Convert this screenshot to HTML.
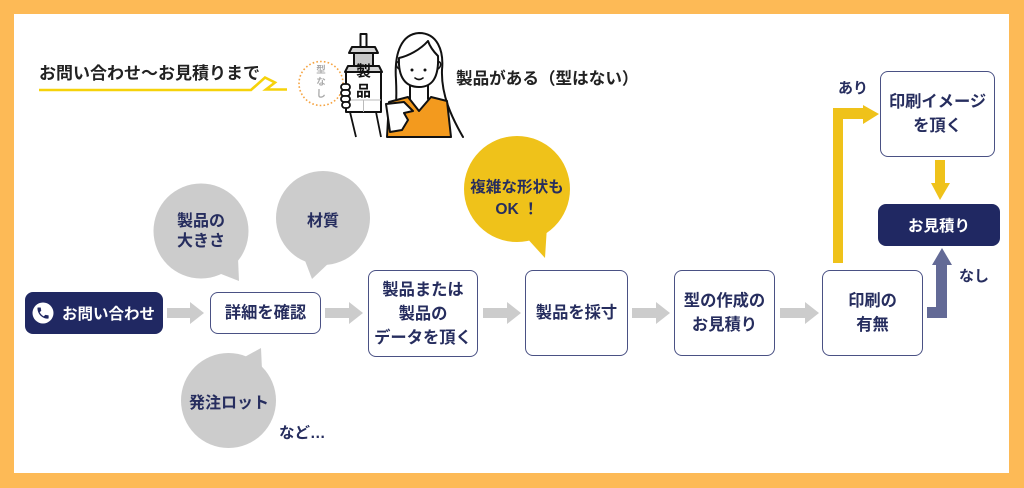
<!DOCTYPE html>
<html><head><meta charset="utf-8">
<style>
*{margin:0;padding:0;box-sizing:border-box}
html,body{width:1024px;height:488px;overflow:hidden;background:#FDBA56}
body{position:relative;font-family:"Liberation Sans","Noto Sans CJK JP",sans-serif;font-weight:bold}
#panel{position:absolute;left:14px;top:14px;width:995px;height:459px;background:#fff}
svg{position:absolute;left:0;top:0}
.t{position:absolute;display:flex;align-items:center;justify-content:center;text-align:center;white-space:nowrap;color:#262D5E}
.box{position:absolute;border:1.6px solid #4A5184;border-radius:8px;background:#fff;display:flex;align-items:center;justify-content:center;text-align:center;color:#262D5E;font-size:16.3px;line-height:24px;white-space:nowrap}
.dark{position:absolute;background:#202862;border-radius:8px;color:#fff;display:flex;align-items:center;justify-content:center;font-size:15.5px;white-space:nowrap}
</style></head><body>
<div id="panel"></div>
<svg width="1024" height="488" viewBox="0 0 1024 488">
  <!-- title underline -->
  <path d="M39 90 H251 L265 77.5 L275 82.5 L266 89.5 H287" fill="none" stroke="#F6D20A" stroke-width="2.6" stroke-linejoin="miter"/>
  <!-- dashed circle -->
  <circle cx="321" cy="83.5" r="22" fill="none" stroke="#F5A443" stroke-width="1.6" stroke-dasharray="1.6 2.2"/>
  <!-- illustration: tower -->
  <g stroke="#111" stroke-width="2" stroke-linejoin="round">
    <rect x="360.5" y="34" width="6" height="13" fill="#fff"/>
    <path d="M352 47 H375 L378 53 H349 Z" fill="#d4d4d4"/>
    <rect x="354" y="53" width="19" height="13" fill="#c8c8c8"/>
    <path d="M348 66 H379 L382 72 H345 Z" fill="#d4d4d4"/>
    <rect x="346" y="72" width="35" height="40" fill="#fff"/>
  </g>
  <g stroke="#bbb" stroke-width="1">
    <line x1="346" y1="100" x2="381" y2="100"/><line x1="363.5" y1="100" x2="363.5" y2="112"/>
  </g>
  <!-- hand on tower -->
  <g stroke="#111" stroke-width="1.8" fill="#fff">
    <rect x="341" y="84" width="9" height="6" rx="3"/>
    <rect x="341" y="90" width="9" height="6" rx="3"/>
    <rect x="341" y="96" width="9" height="6" rx="3"/>
    <rect x="342" y="102" width="8" height="6" rx="3"/>
    <path d="M350 112 L356 137 M376 112 L381 137" fill="none"/>
  </g>
  <!-- woman -->
  <g stroke="#111" stroke-width="2" stroke-linejoin="round" stroke-linecap="round">
    <path d="M392 137 C396 118 397 100 396 80 C394 52 402 34 419 33 C437 33 444 50 442 70 C441 95 452 118 463 137" fill="#fff"/>
    <path d="M410 84 V99 M428 84 V99" fill="none"/>
    <path d="M399 58 C398 78 406 87 419 87 C432 87 439 78 438 56 C434 52 430 47 428 41 C420 50 408 56 399 58 Z" fill="#fff"/>
    <path d="M399 62 C396 61 395 66 399 69 M438 62 C441 61 442 66 438 69" fill="none" stroke-width="1.6"/>
    <path d="M387 137 L389 102 L408 97 L419 111 L431 97 L447 101 L451 137 Z" fill="#F39A1E"/>
    <path d="M386 104 L404 102 L413 111 L404 113 L408 120 L402 130 L390 132 Z" fill="#fff"/>
    <path d="M415 78 Q419 81 423 78" fill="none" stroke-width="1.6"/>
  </g>
  <circle cx="412" cy="70" r="1.5" fill="#111"/><circle cx="425" cy="70" r="1.5" fill="#111"/>

  <!-- gray bubbles -->
  <g fill="#CCCCCC">
    <circle cx="201" cy="231" r="47.5"/>
    <polygon points="216,272 238,258 239,281"/>
    <circle cx="323" cy="218" r="47"/>
    <polygon points="304,258 331,261 312,279"/>
    <circle cx="228.5" cy="400.5" r="47.5"/>
    <polygon points="241,359 262,370 261,348"/>
  </g>
  <!-- yellow bubble -->
  <g fill="#EFC21A">
    <circle cx="517" cy="189" r="53"/>
    <polygon points="525,236 547,226 545,258"/>
  </g>

  <!-- gray arrows -->
  <g fill="#CCCCCC">
    <path d="M167 308 H190 V302 L204 313 L190 324 V318 H167 Z"/>
    <path d="M325 308 H349 V302 L363 313 L349 324 V318 H325 Z"/>
    <path d="M483 308 H507 V302 L521 313 L507 324 V318 H483 Z"/>
    <path d="M632 308 H656 V302 L670 313 L656 324 V318 H632 Z"/>
    <path d="M780 308 H805 V302 L819 313 L805 324 V318 H780 Z"/>
  </g>
  <!-- yellow path arrow -->
  <path d="M833 263 V108 H863 V105 L879 114 L863 124 V119 H843 V263 Z" fill="#EFC21A"/>
  <path d="M935 160 H945 V183 H950 L940 200 L931 183 H935 Z" fill="#EFC21A"/>
  <!-- slate arrow -->
  <path d="M927 307 H936 V265 H932 L942 248 L952 265 H947 V318 H927 Z" fill="#636A96"/>
</svg>

<div class="t" style="left:39px;top:60px;height:22px;font-size:17px;color:#222">お問い合わせ〜お見積りまで</div>
<div class="t" style="left:312px;top:65px;width:18px;height:36px;font-size:9.5px;line-height:12px;color:#aaa;white-space:normal;flex-direction:column">型<br>な<br>し</div>
<div class="t" style="left:355px;top:60px;width:17px;height:20px;font-size:15px;color:#111">製</div>
<div class="t" style="left:355px;top:80px;width:17px;height:20px;font-size:15px;color:#111">品</div>
<div class="t" style="left:456px;top:66px;height:22px;font-size:16.6px;color:#222">製品がある（型はない）</div>

<div class="t" style="left:153px;top:211px;width:96px;height:42px;font-size:16px;line-height:20px;white-space:normal">製品の<br>大きさ</div>
<div class="t" style="left:276px;top:208px;width:94px;height:22px;font-size:16px">材質</div>
<div class="t" style="left:180px;top:390px;width:98px;height:22px;font-size:16px">発注ロット</div>
<div class="t" style="left:279px;top:421px;height:22px;font-size:15.5px">など…</div>
<div class="t" style="left:462px;top:176px;width:110px;height:46px;font-size:15.6px;line-height:22px;white-space:normal">複雑な形状も<br>OK ！</div>

<div class="dark" style="left:25px;top:292px;width:138px;height:42px;justify-content:flex-start;padding-left:37px">お問い合わせ</div>
<svg width="1024" height="488" viewBox="0 0 1024 488" style="pointer-events:none">
  <circle cx="43" cy="313" r="10.5" fill="#fff"/>
  <path transform="translate(35.6,305.6) scale(0.62)" fill="#202862" d="M6.62 10.79c1.44 2.83 3.76 5.14 6.59 6.59l2.2-2.2c.27-.27.67-.36 1.02-.24 1.12.37 2.33.57 3.57.57.55 0 1 .45 1 1V20c0 .55-.45 1-1 1-9.39 0-17-7.610-17-17 0-.55.45-1 1-1h3.5c.55 0 1 .45 1 1 0 1.25.2 2.45.57 3.57.11.35.03.74-.25 1.02l-2.2 2.2z"/>
</svg>
<div class="box" style="left:210px;top:292px;width:111px;height:42px">詳細を確認</div>
<div class="box" style="left:368px;top:270px;width:110px;height:87px">製品または<br>製品の<br>データを頂く</div>
<div class="box" style="left:525px;top:270px;width:103px;height:86px">製品を採寸</div>
<div class="box" style="left:674px;top:270px;width:101px;height:86px">型の作成の<br>お見積り</div>
<div class="box" style="left:822px;top:270px;width:101px;height:86px">印刷の<br>有無</div>
<div class="box" style="left:880px;top:71px;width:115px;height:86px">印刷イメージ<br>を頂く</div>
<div class="dark" style="left:878px;top:204px;width:122px;height:42px">お見積り</div>
<div class="t" style="left:836px;top:76px;width:34px;height:22px;font-size:15px">あり</div>
<div class="t" style="left:957px;top:264px;width:34px;height:22px;font-size:15px">なし</div>
</body></html>
